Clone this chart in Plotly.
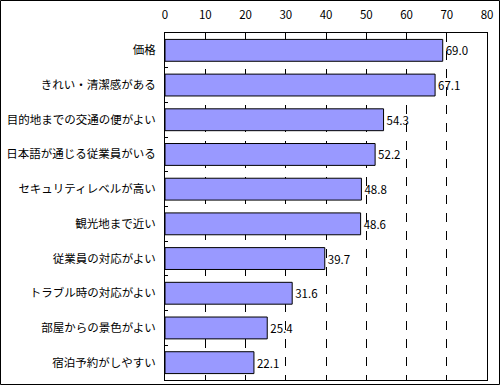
import plotly.graph_objects as go

categories = ["価格", "きれい・清潔感がある", "目的地までの交通の便がよい", "日本語が通じる従業員がいる",
              "セキュリティレベルが高い", "観光地まで近い", "従業員の対応がよい",
              "トラブル時の対応がよい", "部屋からの景色がよい", "宿泊予約がしやすい"]
values = [69.0, 67.1, 54.3, 52.2, 48.8, 48.6, 39.7, 31.6, 25.4, 22.1]
x_ticks = [0, 10, 20, 30, 40, 50, 60, 70, 80]

W, H = 500, 385
ml, mr, mt, mb = 165, 13, 33, 5
pw, ph = W - ml - mr, H - mt - mb

font = "Noto Sans CJK JP, sans-serif"

fig = go.Figure(go.Bar(
    x=values, y=categories, orientation="h",
    marker=dict(color="#9999FF", line=dict(color="black", width=1)),
    text=[f"{v:.1f}" for v in values], textposition="outside",
    textfont=dict(size=11.5, color="black", family=font),
    cliponaxis=False,
))

fig.update_layout(
    width=W, height=H,
    margin=dict(l=ml, r=mr, t=mt, b=mb, autoexpand=False),
    paper_bgcolor="white", plot_bgcolor="white",
    bargap=0.37,
    showlegend=False,
    font=dict(family=font, size=11.5, color="black"),
    xaxis=dict(range=[0, 80], side="top", tickvals=x_ticks, ticktext=[str(t) for t in x_ticks],
               showgrid=True, gridcolor="black", griddash="dash", gridwidth=1,
               ticks="inside", ticklen=5, tickcolor="black",
               showline=True, linecolor="black", mirror=True, zeroline=False,
               tickfont=dict(size=11.5), ticklabelstandoff=8, automargin=False),
    yaxis=dict(autorange="reversed", showline=True, linecolor="black", mirror=True,
               ticks="inside", ticklen=3, tickcolor="black", tickson="boundaries",
               showgrid=False, tickfont=dict(size=11.5), ticklabelstandoff=6, automargin=False),
    shapes=[dict(type="rect", xref="paper", yref="paper",
                 x0=-(ml - 0.5) / pw, x1=1 + (mr - 0.5) / pw,
                 y0=-(mb - 0.5) / ph, y1=1 + (mt - 0.5) / ph,
                 line=dict(color="black", width=1), layer="above")],
)

fig.write_html("out.html", config={"displayModeBar": False},
               post_script="document.body.style.margin='0';document.body.style.overflow='hidden';")
